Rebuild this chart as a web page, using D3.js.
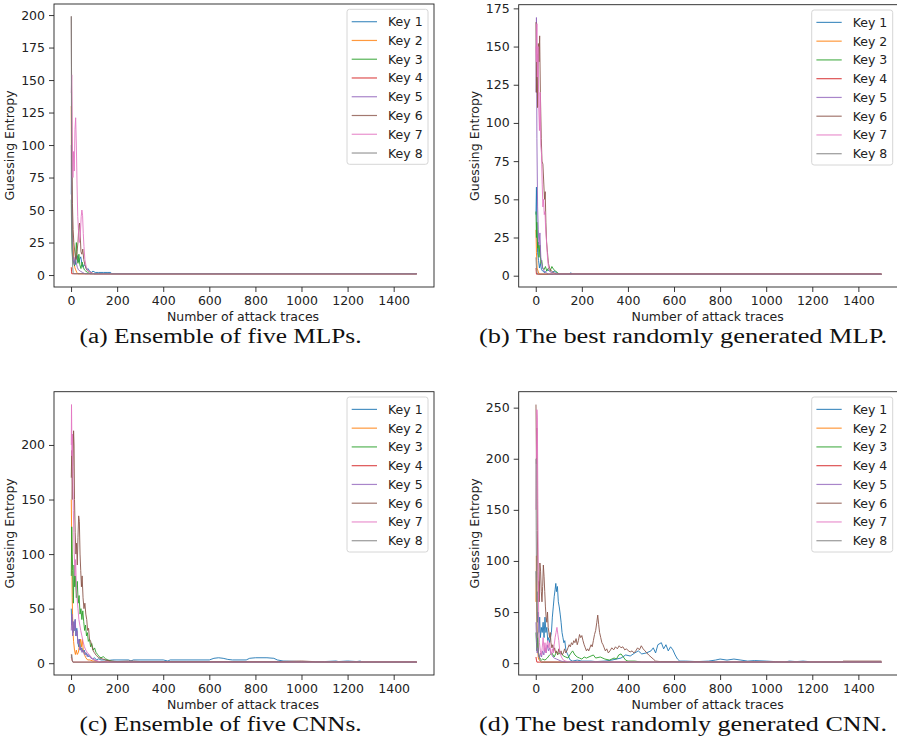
<!DOCTYPE html>
<html>
<head>
<meta charset="utf-8">
<script src="https://cdn.jsdelivr.net/npm/d3@7"></script>
<style>
  html, body { margin: 0; padding: 0; background: #fff; }
  svg { display: block; }
  .tick text { font-family: "DejaVu Sans", sans-serif; font-size: 12.5px; fill: #222; }
  .axis-label { font-family: "DejaVu Sans", sans-serif; font-size: 12.5px; fill: #222; }
  .legend text { font-family: "DejaVu Sans", sans-serif; font-size: 12.5px; fill: #222; }
  .caption { font-family: "Liberation Serif", "DejaVu Serif", serif; font-size: 20px; fill: #111; }
</style>
</head>
<body>
<svg id="chart" width="897" height="739"></svg>
<script>
// guessing entropy of 8 keys, 4 models

const keys = ["Key 1", "Key 2", "Key 3", "Key 4", "Key 5", "Key 6", "Key 7", "Key 8"];
const keyColors = ["#1f77b4", "#ff7f0e", "#2ca02c", "#d62728", "#9467bd", "#8c564b", "#e377c2", "#7f7f7f"];
const xTicks = [0, 200, 400, 600, 800, 1000, 1200, 1400];
const captions = [
  "(a) Ensemble of five MLPs.",
  "(b) The best randomly generated MLP.",
  "(c) Ensemble of five CNNs.",
  "(d) The best randomly generated CNN."
];
const yTicksA = [0, 25, 50, 75, 100, 125, 150, 175, 200];
const yTicksB = [0, 25, 50, 75, 100, 125, 150, 175];
const yTicksC = [0, 50, 100, 150, 200];
const yTicksD = [0, 50, 100, 150, 200, 250];

// [trace count, guessing entropy]
const mlpEnsemble = [
  [[1,62],[2,95],[4,45],[7,22],[10,14],[14,11],[18,8],[22,13],[27,15],[32,10],[37,12],[42,14],[47,9],[52,6],[57,8],[62,7],[68,4],[74,5],[80,3],[88,2],[95,3],[105,2],[120,2],[140,2],[160,2],[172,2],[174,1],[1500,1]],
  [[1,130],[2,75],[4,42],[6,35],[9,20],[12,12],[16,6],[20,4],[25,2],[30,1],[1500,1]],
  [[1,58],[2,40],[4,20],[7,12],[11,10],[15,7],[19,12],[23,25],[26,14],[30,9],[34,16],[38,8],[43,5],[48,10],[53,6],[58,4],[64,3],[72,2],[82,1],[1500,1]],
  [[1,6],[2,3],[3,1],[1500,1]],
  [[1,100],[2,70],[4,35],[7,18],[10,12],[14,8],[18,14],[22,10],[27,6],[32,4],[40,3],[50,2],[60,1],[1500,1]],
  [[1,199],[2,160],[4,95],[6,55],[9,35],[12,25],[15,20],[18,15],[22,12],[26,18],[30,25],[34,38],[37,40],[40,30],[43,18],[47,16],[51,20],[55,12],[60,8],[66,5],[74,3],[85,2],[100,1],[1500,1]],
  [[1,140],[3,154],[5,110],[8,75],[11,95],[14,80],[17,112],[20,121],[23,100],[26,70],[29,45],[32,35],[36,25],[40,30],[44,45],[47,50],[50,46],[53,32],[56,22],[60,12],[66,6],[74,3],[85,2],[95,1],[1500,1]],
  [[1,199],[2,110],[3,50],[5,20],[7,6],[9,2],[11,1],[1500,1]]
];

const mlpBest = [
  [[1,40],[3,58],[5,30],[8,15],[12,10],[16,5],[20,8],[25,4],[30,3],[40,2],[50,4],[60,3],[70,2],[80,3],[90,2],[100,1],[148,1],[152,2],[156,1],[1500,1]],
  [[1,30],[3,15],[6,5],[10,3],[15,1],[1500,1]],
  [[1,42],[3,25],[5,35],[8,18],[11,22],[14,12],[18,20],[22,8],[26,10],[30,5],[36,4],[42,6],[48,3],[55,5],[62,3],[70,6],[78,4],[86,3],[95,2],[102,1],[1500,1]],
  [[1,5],[3,1],[1500,1]],
  [[1,120],[3,169],[5,90],[8,45],[11,30],[14,20],[18,28],[22,12],[26,8],[30,5],[36,3],[45,2],[55,1],[1500,1]],
  [[1,166],[3,120],[5,145],[8,110],[11,152],[14,140],[17,157],[20,120],[24,90],[27,75],[31,73],[35,60],[38,50],[41,55],[44,35],[47,22],[51,15],[55,8],[60,5],[68,3],[78,2],[90,1],[1500,1]],
  [[1,150],[3,140],[5,165],[7,130],[10,150],[13,110],[16,95],[19,120],[22,85],[25,80],[28,60],[31,45],[34,50],[37,40],[40,42],[43,30],[47,22],[51,12],[55,6],[60,3],[68,2],[78,1],[1500,1]],
  [[1,12],[3,5],[6,2],[9,1],[1500,1]]
];

const cnnEnsemble = [
  [[1,50],[3,35],[6,42],[9,28],[12,38],[15,30],[18,40],[21,25],[25,32],[29,20],[33,15],[37,22],[42,12],[47,14],[52,10],[57,12],[62,8],[68,9],[74,6],[80,7],[87,5],[94,4],[102,5],[110,3],[120,4],[130,3],[145,3],[160,2.5],[180,3],[250,3],[260,2],[270,3],[400,3],[420,2],[430,3],[600,3],[620,4.5],[640,5],[660,4.5],[680,3.5],[700,3],[760,3],[775,4.5],[800,5],[850,5],[880,4.5],[895,3],[920,2],[1000,1.5],[1100,1.5],[1150,2],[1160,1.5],[1200,2],[1240,1.5],[1255,2],[1260,1],[1500,1]],
  [[1,150],[3,110],[5,60],[8,30],[11,20],[15,12],[19,8],[23,12],[27,8],[32,10],[37,18],[41,22],[45,15],[49,22],[53,12],[58,8],[64,5],[72,3],[82,3],[95,2],[110,2],[125,1],[160,2],[175,1],[1500,1]],
  [[1,80],[3,125],[5,100],[7,85],[10,55],[13,90],[16,70],[19,80],[23,60],[27,75],[31,55],[35,62],[39,45],[43,50],[47,40],[51,48],[55,38],[59,30],[63,35],[67,25],[71,28],[75,20],[80,22],[85,15],[90,18],[96,12],[102,14],[108,10],[115,8],[122,6],[130,5],[140,6],[150,4],[160,3],[175,2],[190,1.5],[210,1],[1500,1]],
  [[1,8],[3,5],[5,2],[8,1],[1500,1]],
  [[1,30],[4,45],[7,25],[10,38],[14,30],[18,40],[22,25],[26,30],[30,18],[34,22],[38,12],[42,15],[47,10],[52,12],[58,8],[64,10],[70,6],[76,8],[84,5],[92,4],[100,3],[110,2],[120,1.5],[135,1],[1500,1]],
  [[1,170],[3,195],[5,150],[8,180],[11,213],[13,200],[15,150],[18,120],[21,100],[24,110],[27,90],[30,115],[33,135],[36,130],[39,100],[42,85],[45,70],[48,80],[52,60],[56,50],[60,55],[64,45],[68,40],[72,30],[76,32],[80,22],[85,20],[90,16],[95,12],[100,10],[110,7],[120,5],[135,4],[150,3],[170,2],[200,1.5],[260,2],[300,1.5],[500,1.5],[700,1.5],[900,1.5],[1000,2],[1050,1.5],[1060,1],[1500,1]],
  [[1,200],[2,237],[4,190],[6,210],[8,170],[10,140],[12,120],[14,100],[17,80],[20,95],[23,70],[26,60],[30,50],[34,40],[38,35],[42,30],[47,25],[52,20],[58,15],[64,12],[70,10],[78,8],[86,6],[95,4],[105,3],[115,2],[130,1],[1500,1]],
  [[1,5],[3,8],[5,3],[8,1],[1500,1]]
];

const cnnBest = [
  [[1,90],[3,60],[5,70],[8,40],[11,50],[14,30],[17,45],[20,25],[24,35],[28,30],[32,40],[36,25],[40,45],[44,30],[48,35],[52,22],[56,25],[60,20],[64,25],[68,30],[72,45],[76,55],[80,65],[84,72],[87,78],[90,70],[94,75],[98,60],[102,55],[106,48],[110,40],[114,30],[118,25],[122,20],[126,22],[130,14],[135,10],[140,8],[145,5],[150,3],[160,2],[180,3],[200,2],[240,2],[260,1.5],[300,2],[330,3],[350,4],[370,5],[390,8],[410,7],[430,10],[445,12],[460,9],[480,10],[500,12],[510,15],[520,10],[530,18],[545,20],[555,14],[565,18],[575,12],[585,16],[595,13],[605,8],[615,4],[625,2],[650,2],[700,1.5],[750,2],[780,3],[800,4],[830,3],[860,4],[890,3],[920,2],[950,2.5],[1000,2],[1040,1.5],[1080,1],[1100,2],[1130,1.5],[1160,2],[1185,1.5],[1190,1],[1500,1]],
  [[1,60],[3,105],[5,40],[8,15],[11,5],[15,3],[20,2],[25,1],[1500,1]],
  [[1,30],[3,20],[5,12],[8,25],[11,10],[15,6],[20,4],[25,3],[30,4],[40,3],[50,5],[60,8],[70,10],[80,6],[90,11],[100,9],[110,10],[120,7],[130,6],[140,5],[150,9],[160,12],[170,8],[180,6],[190,5],[200,4],[210,6],[220,5],[240,7],[250,8],[260,5],[280,6],[300,4],[320,3],[340,5],[350,4],[360,8],[370,9],[380,6],[390,3],[400,2],[430,2],[460,1],[1500,1]],
  [[1,6],[3,3],[5,1],[1500,1]],
  [[1,40],[3,25],[6,10],[9,15],[12,8],[16,5],[20,10],[25,6],[30,12],[35,8],[40,15],[45,10],[50,18],[55,12],[60,15],[65,10],[70,8],[75,6],[80,5],[90,4],[100,3],[110,2],[120,1.5],[140,1],[1500,1]],
  [[1,253],[3,195],[5,230],[7,130],[9,90],[11,60],[13,80],[15,60],[18,98],[21,90],[24,70],[27,60],[30,75],[33,96],[36,85],[39,70],[42,55],[45,45],[48,40],[51,50],[54,35],[57,30],[60,25],[63,30],[66,20],[70,15],[74,18],[78,12],[82,15],[86,10],[90,12],[95,8],[100,14],[105,10],[110,12],[115,8],[120,10],[125,14],[130,10],[135,12],[140,15],[145,18],[150,16],[155,20],[160,18],[165,22],[170,20],[175,24],[180,18],[185,22],[190,28],[195,25],[200,27],[205,22],[210,18],[215,15],[220,12],[225,14],[230,12],[235,15],[240,18],[245,16],[250,22],[255,28],[260,32],[265,40],[269,47],[273,38],[277,30],[282,25],[287,20],[292,18],[297,15],[302,12],[308,14],[315,10],[322,12],[330,15],[338,13],[346,16],[354,14],[362,17],[370,15],[378,16],[386,13],[394,14],[402,12],[410,11],[418,12],[426,10],[434,12],[442,15],[450,13],[458,17],[466,14],[474,12],[482,10],[490,8],[500,6],[510,4],[520,2],[540,1.5],[600,1.5],[650,1],[700,1.5],[760,1],[1330,1],[1335,2],[1500,2]],
  [[1,150],[3,200],[5,248],[7,240],[9,160],[11,90],[13,40],[16,20],[20,12],[24,8],[28,15],[32,25],[36,12],[40,20],[44,10],[48,18],[52,22],[56,15],[60,20],[64,12],[68,8],[72,14],[76,10],[80,18],[84,25],[88,30],[92,35],[96,28],[100,22],[104,12],[108,8],[114,5],[120,3],[130,2],[145,1],[1500,1]],
  [[1,200],[2,130],[4,60],[6,25],[9,30],[12,10],[16,5],[20,2],[25,1],[1500,1]]
];

const svg = d3.select("#chart");

const panels = [
  { series: mlpEnsemble, yTicks: yTicksA, yDom: [-9.2, 208.5], x0: 54, x1: 434, y0: 4, y1: 287 },
  { series: mlpBest, yTicks: yTicksB, yDom: [-7.4, 177.4], x0: 518.7, x1: 898.7, y0: 4.7, y1: 287 },
  { series: cnnEnsemble, yTicks: yTicksC, yDom: [-10.8, 248.8], x0: 54, x1: 434, y0: 391.7, y1: 675 },
  { series: cnnBest, yTicks: yTicksD, yDom: [-11.6, 265.6], x0: 518.7, x1: 898.7, y0: 391.7, y1: 675 }
];

panels.forEach((p, pi) => {
  const g = svg.append("g");
  const x = d3.scaleLinear().domain([-74, 1575]).range([p.x0, p.x1]);
  const y = d3.scaleLinear().domain(p.yDom).range([p.y1, p.y0]);

  const clipId = "clip" + pi;
  g.append("clipPath").attr("id", clipId)
    .append("rect")
    .attr("x", p.x0).attr("y", p.y0)
    .attr("width", p.x1 - p.x0).attr("height", p.y1 - p.y0);

  // lines
  const line = d3.line().x(d => x(d[0])).y(d => y(d[1]));
  g.append("g").attr("clip-path", `url(#${clipId})`)
    .selectAll("path")
    .data(p.series)
    .enter().append("path")
    .attr("d", line)
    .attr("fill", "none")
    .attr("stroke", (d, i) => keyColors[i])
    .attr("stroke-width", 1)
    .attr("stroke-opacity", 0.9)
    .attr("stroke-linejoin", "round");

  // axes
  const xAxis = d3.axisBottom(x).tickValues(xTicks).tickFormat(d3.format("d")).tickSize(5).tickPadding(4);
  g.append("g")
    .attr("transform", `translate(0,${p.y1})`)
    .call(xAxis)
    .call(a => a.select(".domain").remove());

  const yAxis = d3.axisLeft(y).tickValues(p.yTicks).tickFormat(d3.format("d")).tickSize(5).tickPadding(4);
  g.append("g")
    .attr("transform", `translate(${p.x0},0)`)
    .call(yAxis)
    .call(a => a.select(".domain").remove());

  g.selectAll(".tick line").attr("stroke", "#222").attr("stroke-width", 0.9);

  // frame
  g.append("rect")
    .attr("x", p.x0).attr("y", p.y0)
    .attr("width", p.x1 - p.x0).attr("height", p.y1 - p.y0)
    .attr("fill", "none")
    .attr("stroke", "#222")
    .attr("stroke-width", 0.9);

  // labels
  g.append("text")
    .attr("class", "axis-label")
    .attr("x", (p.x0 + p.x1) / 2 - 1)
    .attr("y", p.y1 + 34)
    .attr("text-anchor", "middle")
    .text("Number of attack traces");

  const ylx = p.x0 - 40;
  const yly = (p.y0 + p.y1) / 2;
  g.append("text")
    .attr("class", "axis-label")
    .attr("transform", `translate(${ylx},${yly}) rotate(-90)`)
    .attr("text-anchor", "middle")
    .text("Guessing Entropy");

  // legend
  const lw = 81, lh = 155;
  const lx = p.x1 - 6 - lw, ly = p.y0 + 5.3;
  const leg = g.append("g").attr("class", "legend");
  leg.append("rect")
    .attr("x", lx).attr("y", ly)
    .attr("width", lw).attr("height", lh)
    .attr("rx", 2.5)
    .attr("fill", "#fff").attr("fill-opacity", 0.8)
    .attr("stroke", "#d6d6d6").attr("stroke-width", 1);
  keys.forEach((k, i) => {
    const yy = ly + 12.4 + i * 18.76;
    leg.append("line")
      .attr("x1", lx + 4.7).attr("x2", lx + 30)
      .attr("y1", yy).attr("y2", yy)
      .attr("stroke", keyColors[i]).attr("stroke-width", 1.2)
      .attr("stroke-opacity", 0.8);
    leg.append("text")
      .attr("x", lx + 41).attr("y", yy + 4.5)
      .text(k);
  });

  // caption
  const capCx = pi % 2 === 0 ? 220.5 : 683;
  const capW = pi % 2 === 0 ? 282 : 408;
  g.append("text")
    .attr("class", "caption")
    .attr("x", capCx)
    .attr("y", p.y1 + 56)
    .attr("text-anchor", "middle")
    .attr("textLength", capW)
    .attr("lengthAdjust", "spacingAndGlyphs")
    .text(captions[pi]);
});
</script>
</body>
</html>
